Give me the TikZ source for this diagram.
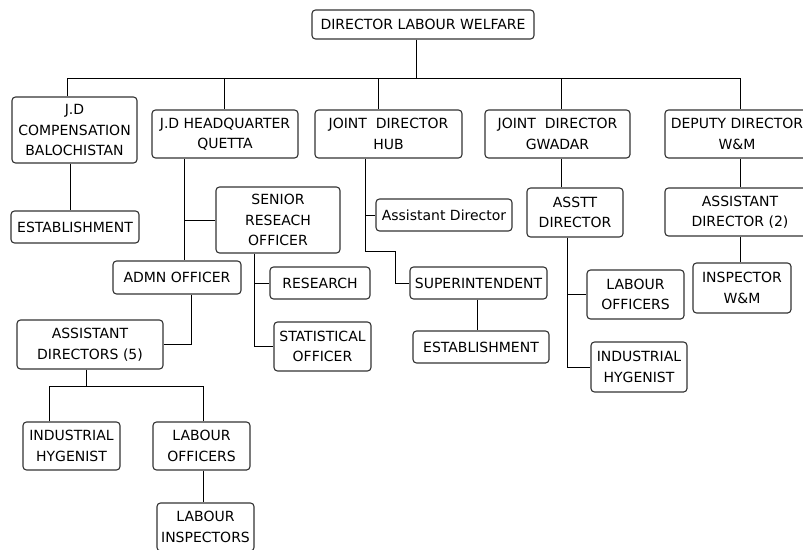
\documentclass[tikz,border=0pt]{standalone}
\usepackage{fontspec}
\setmainfont{DejaVu Sans}
\begin{document}
\begin{tikzpicture}[x=1pt,y=-1pt,
  box/.style={draw=black!80,line width=1.1pt,rounded corners=3.5pt,fill=white,align=center,inner sep=1pt,font=\fontsize{14}{20.5}\selectfont},
  link/.style={line width=1pt}]

\useasboundingbox (0,0) rectangle (803,549);
\fill [white] (0,0) rectangle (803,549);

\node [box,minimum width=222,minimum height=29] (dlw) at (423,24.5) {DIRECTOR LABOUR WELFARE};

\node [box,minimum width=125,minimum height=66] (jdc) at (74.5,130) {J.D\\COMPENSATION\\BALOCHISTAN};
\node [box,minimum width=146,minimum height=48] (hq) at (225,134) {J.D HEADQUARTER\\QUETTA};
\node [box,minimum width=147,minimum height=48] (hub) at (388.5,134) {JOINT\ \ DIRECTOR\\HUB};
\node [box,minimum width=145,minimum height=48] (gwd) at (557.5,134) {JOINT\ \ DIRECTOR\\GWADAR};
\node [box,minimum width=144,minimum height=48] (dd) at (737,134) {DEPUTY DIRECTOR\\W\&M};

\node [box,minimum width=128,minimum height=32] (est1) at (75,227) {ESTABLISHMENT};
\node [box,minimum width=124,minimum height=66] (sro) at (278,220) {SENIOR\\RESEACH\\OFFICER};
\node [box,minimum width=128,minimum height=33] (admn) at (177,277.5) {ADMN OFFICER};
\node [box,minimum width=100,minimum height=32] (res) at (320,283) {RESEARCH};
\node [box,minimum width=97,minimum height=49] (stat) at (322.5,346.5) {STATISTICAL\\OFFICER};
\node [box,minimum width=146,minimum height=49] (ad5) at (90,344.5) {ASSISTANT\\DIRECTORS (5)};
\node [box,minimum width=97,minimum height=48] (ih1) at (71.5,446) {INDUSTRIAL\\HYGENIST};
\node [box,minimum width=97,minimum height=48] (lo1) at (201.5,446) {LABOUR\\OFFICERS};
\node [box,minimum width=97,minimum height=48] (li) at (205.5,527) {LABOUR\\INSPECTORS};

\node [box,minimum width=136,minimum height=32] (ad) at (444,215) {Assistant Director};
\node [box,minimum width=137,minimum height=32] (sup) at (478.5,283) {SUPERINTENDENT};
\node [box,minimum width=136,minimum height=32] (est2) at (481,347) {ESTABLISHMENT};

\node [box,minimum width=96,minimum height=49] (asd) at (575,212.5) {ASSTT\\DIRECTOR};
\node [box,minimum width=97,minimum height=49] (lo2) at (635.5,294.5) {LABOUR\\OFFICERS};
\node [box,minimum width=96,minimum height=50] (ih2) at (639,367) {INDUSTRIAL\\HYGENIST};

\node [box,minimum width=150,minimum height=48] (ad2) at (740,212) {ASSISTANT\\DIRECTOR (2)};
\node [box,minimum width=98,minimum height=50] (insp) at (742,288) {INSPECTOR\\W\&M};

\coordinate (top) at (416,78);
\coordinate (b1) at (67,78);
\coordinate (b2) at (224,78);
\coordinate (b3) at (378,78);
\coordinate (b4) at (561,78);
\coordinate (b5) at (740,78);

\draw [link] (top |- dlw.south) -- (top);
\draw [link] (b1) -- (b5);
\foreach \b/\n in {b1/jdc,b2/hq,b3/hub,b4/gwd,b5/dd}
  \draw [link] (\b) -- (\b |- \n.north);

\coordinate (c1) at (70,0);
\draw [link] (c1 |- jdc.south) -- (c1 |- est1.north);

\coordinate (hqs) at (184,0);
\draw [link] (hqs |- hq.south) -- (hqs |- admn.north);
\draw [link] (hqs |- sro.west) -- (sro.west);

\coordinate (srs) at (254,0);
\draw [link] (srs |- sro.south) |- (stat.west);
\draw [link] (srs |- res.west) -- (res.west);

\coordinate (ads) at (191,0);
\draw [link] (ads |- admn.south) |- (ad5.east);

\coordinate (fork) at (86,386);
\coordinate (f1) at (49,386);
\coordinate (f2) at (203,386);
\draw [link] (fork |- ad5.south) -- (fork);
\draw [link] (f1 |- ih1.north) -- (f1) -- (f2) -- (f2 |- lo1.north);
\draw [link] (f2 |- lo1.south) -- (f2 |- li.north);

\coordinate (hbs) at (365,251);
\coordinate (hbt) at (395,251);
\draw [link] (hbs |- hub.south) -- (hbs) -- (hbt) |- (sup.west);
\draw [link] (hbs |- ad.west) -- (ad.west);

\coordinate (c2) at (477,0);
\draw [link] (c2 |- sup.south) -- (c2 |- est2.north);

\draw [link] (b4 |- gwd.south) -- (b4 |- asd.north);
\coordinate (gws) at (567,0);
\draw [link] (gws |- asd.south) |- (ih2.west);
\draw [link] (gws |- lo2.west) -- (lo2.west);

\draw [link] (b5 |- dd.south) -- (b5 |- ad2.north);
\draw [link] (b5 |- ad2.south) -- (b5 |- insp.north);

\end{tikzpicture}
\end{document}
